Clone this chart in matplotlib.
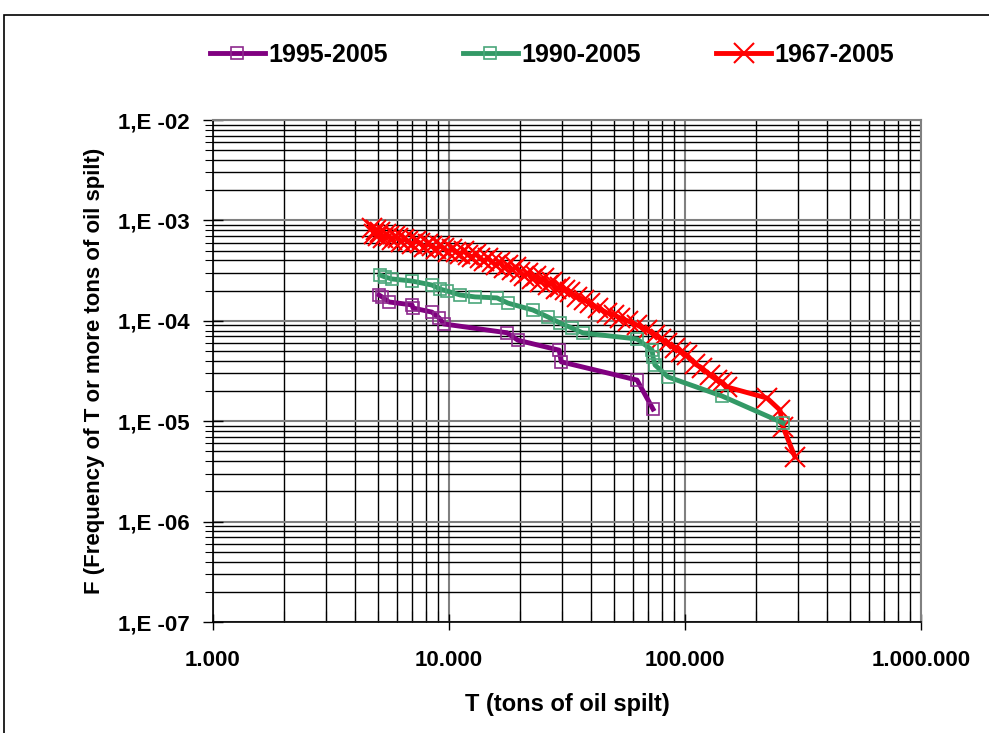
import matplotlib
matplotlib.use('Agg')
import matplotlib.pyplot as plt
from matplotlib.ticker import LogLocator, FixedLocator, FixedFormatter, NullFormatter
from matplotlib.patches import Rectangle

plt.rcParams['font.family'] = ['Liberation Sans', 'DejaVu Sans']
plt.rcParams['font.weight'] = 'bold'

# 1995-2005 (tons, frequency)
t_1995 = [5050, 5200, 5570, 6970, 7040, 8470, 9070, 9520, 17600, 19600,
          29300, 29900, 62600, 73200]
f_1995 = [1.81e-4, 1.73e-4, 1.54e-4, 1.44e-4, 1.34e-4, 1.22e-4, 1.07e-4,
          9.3e-5, 7.6e-5, 6.4e-5, 5.1e-5, 3.9e-5, 2.57e-5, 1.32e-5]

# 1990-2005
t_1990 = [5100, 5360, 5730, 6970, 8470, 9160, 9810, 11130, 12890, 15970,
          17780, 22690, 26280, 29530, 33200, 36970, 62600, 72480, 73190,
          74630, 84720, 143500, 260200]
f_1990 = [2.86e-4, 2.73e-4, 2.61e-4, 2.49e-4, 2.27e-4, 2.07e-4, 1.98e-4,
          1.81e-4, 1.73e-4, 1.69e-4, 1.50e-4, 1.28e-4, 1.09e-4, 9.5e-5,
          8.48e-5, 7.56e-5, 6.59e-5, 5.12e-5, 4.36e-5, 3.63e-5, 2.76e-5,
          1.78e-5, 9.6e-6]

# 1967-2005
t_1967 = [4720, 4810, 4910, 5000, 5100, 5250, 5410, 5570, 5730, 5900,
          6080, 6260, 6450, 6700, 6970, 7250, 7540, 7840, 8150, 8470,
          8810, 9160, 9520, 9900, 10300, 10710, 11130, 11580, 12040, 12520,
          13010, 13530, 14070, 14630, 15210, 15820, 16450, 17110, 17780, 18490,
          19230, 19990, 20790, 21610, 22470, 23370, 24300, 25270, 26280, 27320,
          28410, 29530, 31010, 32560, 34860, 37330, 39580, 42800, 46720, 50030,
          53040, 57350, 62600, 69020, 74630, 79130, 83890, 90700, 96180, 102000,
          110300, 118000, 127600, 136600, 143500, 150700, 222600, 252600, 260200,
          292500]
f_1967 = [8.40e-4, 7.32e-4, 8.02e-4, 6.99e-4, 7.66e-4, 6.68e-4, 7.32e-4, 6.99e-4, 6.38e-4, 6.99e-4,
          6.68e-4, 6.10e-4, 6.53e-4, 6.23e-4, 5.82e-4, 6.23e-4, 5.96e-4, 5.43e-4, 5.82e-4, 5.56e-4,
          5.19e-4, 5.56e-4, 5.31e-4, 4.84e-4, 5.19e-4, 4.84e-4, 4.63e-4, 4.96e-4, 4.52e-4, 4.32e-4,
          4.63e-4, 4.22e-4, 3.94e-4, 4.22e-4, 3.85e-4, 3.59e-4, 3.85e-4, 3.36e-4, 3.59e-4, 3.21e-4,
          3.44e-4, 3.06e-4, 2.79e-4, 2.99e-4, 2.61e-4, 2.79e-4, 2.43e-4, 2.67e-4, 2.27e-4, 2.43e-4,
          2.07e-4, 2.17e-4, 2.03e-4, 1.94e-4, 1.73e-4, 1.61e-4, 1.50e-4, 1.34e-4, 1.20e-4, 1.14e-4,
          1.07e-4, 9.95e-5, 9.08e-5, 8.10e-5, 7.22e-5, 6.59e-5, 6.01e-5, 5.36e-5, 4.89e-5, 4.56e-5,
          3.71e-5, 3.39e-5, 2.88e-5, 2.57e-5, 2.46e-5, 2.19e-5, 1.70e-5, 1.29e-5, 8.75e-6,
          4.40e-6]

x_ticks = [1e3, 1e4, 1e5, 1e6]
x_labels = ['1.000', '10.000', '100.000', '1.000.000']
y_ticks = [1e-7, 1e-6, 1e-5, 1e-4, 1e-3, 1e-2]
y_labels = ['1,E -07', '1,E -06', '1,E -05', '1,E -04', '1,E -03', '1,E -02']

fig = plt.figure(figsize=(9.89, 7.33), dpi=100)
ax = fig.add_axes([213/989, 1 - 622/733, (921-213)/989, (622-120)/733])

# outer chart frame
fig.patches.append(Rectangle((4/989, -0.01), 1.0, 1 - 15/733 + 0.01,
                             transform=fig.transFigure, fill=False,
                             edgecolor='black', linewidth=1.2))

ax.plot(t_1995, f_1995, color='#800080', lw=3.5, marker='s', ms=8,
        mfc='none', mec='#8e2a8e', mew=1.2, label='1995-2005', zorder=5)
ax.plot(t_1990, f_1990, color='#339966', lw=3.5, marker='s', ms=8,
        mfc='none', mec='#4aa77a', mew=1.2, label='1990-2005', zorder=4)
ax.plot(t_1967, f_1967, color='#ff0000', lw=3.5, marker='x', ms=14,
        mew=1.5, label='1967-2005', zorder=3)

ax.set_xscale('log')
ax.set_yscale('log')
ax.set_xlim(1e3, 1e6)
ax.set_ylim(1e-7, 1e-2)

ax.xaxis.set_major_locator(FixedLocator(x_ticks))
ax.xaxis.set_major_formatter(FixedFormatter(x_labels))
ax.yaxis.set_major_locator(FixedLocator(y_ticks))
ax.yaxis.set_major_formatter(FixedFormatter(y_labels))
ax.xaxis.set_minor_locator(LogLocator(base=10, subs=range(2, 10), numticks=20))
ax.yaxis.set_minor_locator(LogLocator(base=10, subs=range(2, 10), numticks=20))
ax.xaxis.set_minor_formatter(NullFormatter())
ax.yaxis.set_minor_formatter(NullFormatter())

ax.grid(which='major', color='#808080', lw=1.5)
ax.grid(which='minor', color='black', lw=1.0)
ax.set_axisbelow(True)

ax.tick_params(axis='x', which='major', direction='inout', length=12, width=1,
               labelsize=16, pad=14)
ax.tick_params(axis='x', which='minor', direction='in', length=8, width=0.8)
ax.tick_params(axis='y', which='major', direction='inout', length=14, width=1,
               labelsize=16, pad=10)
ax.tick_params(axis='y', which='minor', direction='out', length=6, width=0.8)

for s in ['top', 'right']:
    ax.spines[s].set_color('#808080')
    ax.spines[s].set_linewidth(1.5)
for s in ['left', 'bottom']:
    ax.spines[s].set_linewidth(1.2)

ax.set_xlabel('T (tons of oil spilt)', fontsize=17, fontweight='bold', labelpad=16)
ax.set_ylabel('F (Frequency of T or more tons of oil spilt)', fontsize=16,
              fontweight='bold', labelpad=9)

ax.legend(loc='center', bbox_to_anchor=(552/989, 1 - 55/733), bbox_transform=fig.transFigure,
          ncol=3, frameon=False, handlelength=2.2, columnspacing=3.0,
          handletextpad=0.15, prop={'weight': 'bold', 'size': 18})

fig.savefig('out.png', dpi=100)
